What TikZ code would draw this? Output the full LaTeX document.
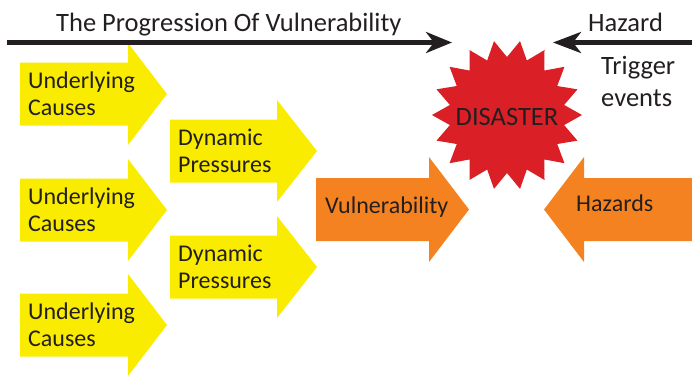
\documentclass[tikz,border=0pt]{standalone}
\usepackage{fontspec}
\setmainfont{Carlito}
\usepackage{xcolor}
\usepackage{tikz}
\usetikzlibrary{arrows.meta}
\definecolor{causes}{RGB}{250,236,0}
\definecolor{vulner}{RGB}{245,130,32}
\definecolor{disaster}{RGB}{218,31,38}
\definecolor{ink}{RGB}{35,31,32}

\begin{document}
\begin{tikzpicture}[x=1pt, y=-1pt, line join=round,
  lbl/.style={align=left, text=ink, inner sep=0pt, font=\fontsize{24}{27}\selectfont},
  head/.style={lbl, font=\fontsize{26.5}{32}\selectfont}]
\useasboundingbox (0,0) rectangle (692,376);

\foreach \yc [count=\n] in {94,210,325}{
  \fill[causes] (20,\yc-31.5) -- (128,\yc-31.5) -- (128,\yc-51) -- (167,\yc)
    -- (128,\yc+51) -- (128,\yc+31.5) -- (20,\yc+31.5) -- cycle;
  \node[lbl, anchor=west] (uc\n) at (28,\yc) {Underlying\\Causes};
}
\foreach \yc [count=\n] in {151,267}{
  \fill[causes] (170,\yc-31.5) -- (277,\yc-31.5) -- (277,\yc-51) -- (317,\yc)
    -- (277,\yc+51) -- (277,\yc+31.5) -- (170,\yc+31.5) -- cycle;
  \node[lbl, anchor=west] (dp\n) at (178,\yc) {Dynamic\\Pressures};
}

\fill[vulner] (316,178) -- (429,178) -- (429,157) -- (469,209.5) -- (429,262)
  -- (429,241) -- (316,241) -- cycle;
\fill[vulner] (692,178) -- (584,178) -- (584,157) -- (544,209.5) -- (584,262)
  -- (584,241) -- (692,241) -- cycle;
\node[lbl, anchor=base west] (vul) at (325,213) {Vulnerability};
\node[lbl, anchor=base west] (haz) at (576,211) {Hazards};

\begin{scope}[shift={(507,115)}]
  \fill[disaster] (0:75) \foreach \a in {0,20,...,340}{ -- (\a:75) -- (\a+10:58) } -- cycle;
\end{scope}
\node[head, anchor=base] (dis) at (507,125) {DISASTER};

\node[head, anchor=base west] (title) at (56,31) {The Progression Of Vulnerability};
\node[head, anchor=base west] (hazard) at (588,31) {Hazard};
\node[head, anchor=base west] (trig) at (601,106) {Trigger\\events};

\coordinate (p0) at (7,42.5);
\coordinate (p1) at (452,42.5);
\coordinate (h0) at (692,42.5);
\coordinate (h1) at (553,42.5);
\draw[ink, line width=4.5pt, -{Stealth[length=26pt, width=21pt, inset=8pt]}] (p0) -- (p1);
\draw[ink, line width=4.5pt, -{Stealth[length=28pt, width=21pt, inset=8pt]}] (h0) -- (h1);
\end{tikzpicture}
\end{document}
